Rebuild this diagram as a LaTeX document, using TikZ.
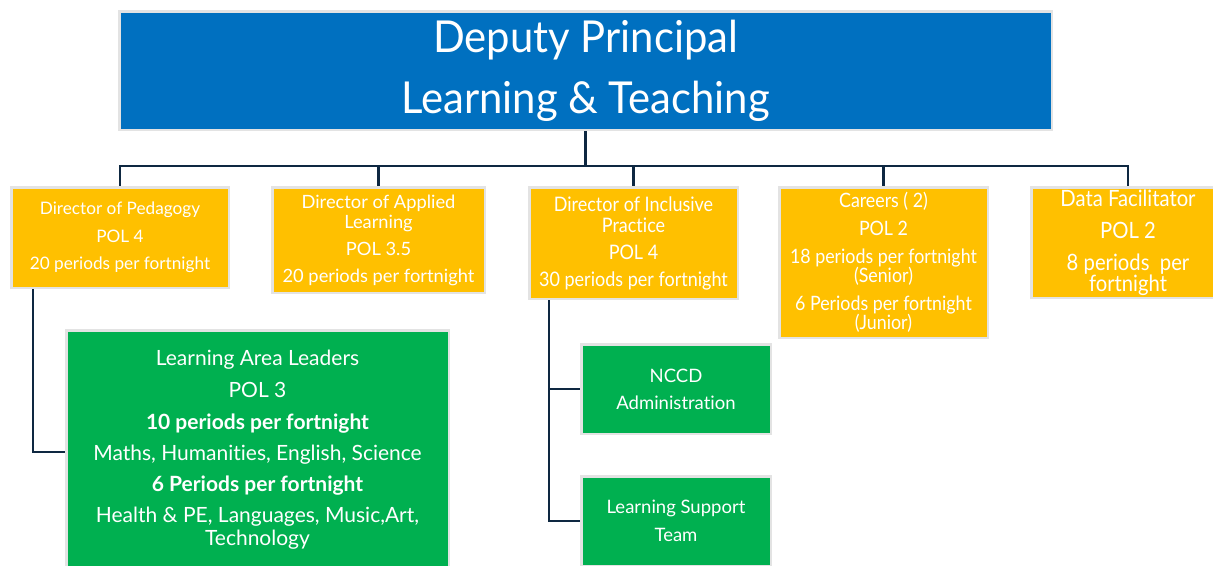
\documentclass[tikz,border=0pt]{standalone}
\usepackage{fontspec}
\setmainfont{Lato}[Ligatures=NoCommon]
\newfontfamily\narrowfont[FakeStretch=0.9, Ligatures=NoCommon]{Lato}
\newfontfamily\titlefont[FakeStretch=0.95]{Lato}
\definecolor{dpblue}{HTML}{0070C0}
\definecolor{dpgold}{HTML}{FFC000}
\definecolor{dpgreen}{HTML}{00B050}
\definecolor{rimgrey}{HTML}{E3E3E3}
\definecolor{linknavy}{HTML}{0E2841}
\tikzstyle{blockB} = [draw=rimgrey, line width=2.5pt, inner sep=0pt, text centered, align=center, text=white, anchor=north west]
\tikzstyle{blockT} = [blockB, fill=dpblue, font=\titlefont\fontsize{44}{46}\selectfont]
\tikzstyle{blockY} = [blockB, fill=dpgold, font=\fontsize{17.2}{21}\selectfont]
\tikzstyle{blockG} = [blockB, fill=dpgreen, font=\fontsize{18.5}{27}\selectfont]
\tikzstyle{link} = [draw=linknavy, line width=2.6pt]
\usetikzlibrary{positioning}

\begin{document}
\begin{tikzpicture}[x=1pt, y=-1pt]
    \useasboundingbox (0,0) rectangle (1213,565);
    \node [blockT, minimum width=932.5pt, minimum height=118.5pt] (dp) at (118,10) {Deputy Principal\\[15pt]Learning \& Teaching};

    \node [blockY, minimum width=217.5pt, minimum height=100.5pt] (ped) at (10,186) {Director of Pedagogy\\[6.5pt]POL 4\\[6.5pt]20 periods per fortnight};
    \node [blockY, right=41pt of ped.north east, anchor=north west, minimum width=212.5pt, minimum height=105.5pt, font=\fontsize{18.3}{20}\selectfont] (app) {Director of Applied\\Learning\\[7pt]POL 3.5\\[7pt]20 periods per fortnight};
    \node [blockY, right=42pt of app.north east, anchor=north west, minimum width=208.5pt, minimum height=111.5pt, font=\narrowfont\fontsize{20}{21}\selectfont] (inc) {Director of Inclusive\\Practice\\[6pt]POL 4\\[6pt]30 periods per fortnight};
    \node [blockY, right=39pt of inc.north east, anchor=north west, minimum width=208.5pt, minimum height=150.5pt, font=\narrowfont\fontsize{19.8}{19}\selectfont] (car) {Careers ( 2)\\[9pt]POL 2\\[9pt]18 periods per fortnight\\(Senior)\\[9pt]6 Periods per fortnight\\(Junior)};
    \node [blockY, right=41pt of car.north east, anchor=north west, minimum width=193.5pt, minimum height=110.5pt, font=\narrowfont\fontsize{22.5}{21}\selectfont] (data) {Data Facilitator\\[11pt]POL 2\\[11pt]8 periods~ per\\fortnight};

    \node [blockG, below right=40pt and 55pt of ped.south west, minimum width=382.5pt, minimum height=243.5pt, font=\fontsize{21}{23}\selectfont] (lal) {Learning Area Leaders\\[9pt]POL 3\\[9pt]\textbf{10 periods per fortnight}\\[8pt]Maths, Humanities, English, Science\\[8pt]\textbf{6 Periods per fortnight}\\[8pt]Health \& PE, Languages, Music,Art,\\Technology\\[-15pt]\mbox{}};
    \node [blockG, below right=43pt and 52pt of inc.south west, minimum width=189.5pt, minimum height=89.5pt] (nccd) {NCCD\\Administration};
    \node [blockG, below=40pt of nccd.south west, anchor=north west, minimum width=189.5pt, minimum height=89.5pt, font=\fontsize{18.5}{28}\selectfont] (lst) {Learning Support\\Team};

    \draw [link] (dp.south) -- ++(0,35) coordinate (bus);
    \foreach \n in {ped,app,inc,car,data}
        \draw [link] (bus) -| (\n.north);
    \draw [link] ([xshift=23pt]ped.south west) |- (lal.west);
    \draw [link] ([xshift=21pt]inc.south west) |- (nccd.west);
    \draw [link] ([xshift=21pt]inc.south west) |- (lst.west);
  \end{tikzpicture}
\end{document}
